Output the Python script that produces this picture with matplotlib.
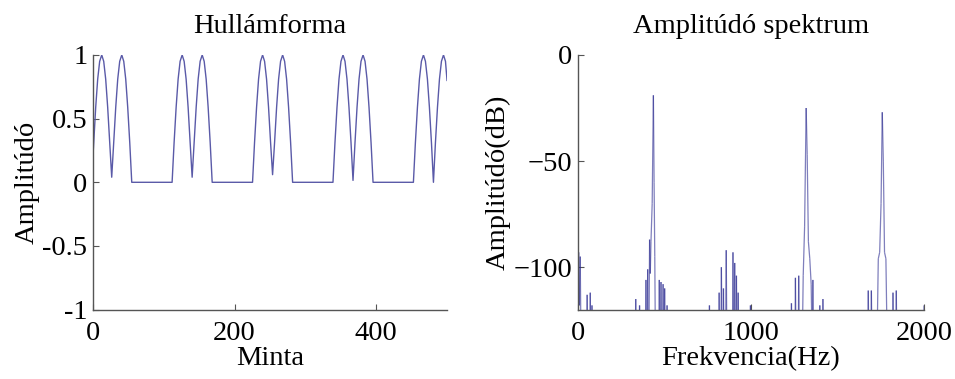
import numpy as np
import matplotlib
matplotlib.use("Agg")
import matplotlib.pyplot as plt
from matplotlib.collections import LineCollection

plt.rcParams['font.family'] = ['Liberation Serif', 'DejaVu Serif']
FS = 20.5

# waveform: rectified double pulses followed by silence
wave_x = [0, 1.0, 3.8, 6.6, 9.4, 12.3, 15.1, 17.9, 20.7, 23.6, 26.4,
          29.2, 32.1, 34.9, 37.7, 40.6, 43.4, 46.2, 49.0, 51.9, 54.7,
          111.7, 114.5, 117.4, 120.2, 123.0, 125.9, 128.7, 131.5, 134.3, 137.2, 140.0,
          142.8, 145.7, 148.5, 151.3, 154.2, 157.0, 159.8, 162.6, 165.5, 168.3,
          225.3, 228.1, 231.0, 233.8, 236.6, 239.5, 242.3, 245.1, 247.9, 250.8, 253.6,
          256.4, 259.3, 262.1, 264.9, 267.8, 270.6, 273.4, 276.2, 279.1, 281.9,
          338.9, 341.7, 344.6, 347.4, 350.2, 353.1, 355.9, 358.7, 361.5, 364.4, 367.2,
          370.0, 372.9, 375.7, 378.5, 381.4, 384.2, 387.0, 389.8, 392.7, 395.5,
          452.5, 455.3, 458.2, 461.0, 463.8, 466.7, 469.5, 472.3, 475.1, 478.0, 480.8,
          483.6, 486.5, 489.3, 492.1, 495.0, 497.8, 500]
wave_y = [0.21, 0.31, 0.59, 0.81, 0.95, 1.0, 0.95, 0.81, 0.59, 0.31, 0.04,
          0.31, 0.59, 0.81, 0.95, 1.0, 0.95, 0.81, 0.59, 0.31, 0.0,
          0.0, 0.31, 0.59, 0.81, 0.95, 1.0, 0.95, 0.81, 0.59, 0.31, 0.04,
          0.31, 0.59, 0.81, 0.95, 1.0, 0.95, 0.81, 0.59, 0.31, 0.0,
          0.0, 0.31, 0.59, 0.81, 0.95, 1.0, 0.95, 0.81, 0.59, 0.31, 0.06,
          0.31, 0.59, 0.81, 0.95, 1.0, 0.95, 0.81, 0.59, 0.31, 0.0,
          0.0, 0.31, 0.59, 0.81, 0.95, 1.0, 0.95, 0.81, 0.59, 0.31, 0.015,
          0.31, 0.59, 0.81, 0.95, 1.0, 0.95, 0.81, 0.59, 0.31, 0.0,
          0.0, 0.31, 0.59, 0.81, 0.95, 1.0, 0.95, 0.81, 0.59, 0.31, 0.0,
          0.31, 0.59, 0.81, 0.95, 1.0, 0.95, 0.80]

# amplitude spectrum in dB (values below -120 fall under the axis)
spec_f = [0, 4, 8, 13, 18, 50, 53, 57, 68, 71, 75, 78, 81, 85,
          330, 334, 338, 352, 356, 360, 389, 393, 397, 400, 403, 407,
          410, 414, 418, 422, 429, 436, 440, 444, 448,
          467, 470, 474, 477, 480, 484, 489, 492, 496, 498, 501, 505, 512, 515, 519,
          757, 760, 764, 813, 816, 820, 826, 829, 833, 838, 841, 845,
          853, 857, 861, 893, 896, 900, 903, 906, 910, 913, 916, 920, 923, 926, 930,
          994, 997, 1001,
          1231, 1234, 1238, 1254, 1257, 1261, 1273, 1276, 1280,
          1296, 1302, 1310, 1319, 1325, 1332, 1340, 1348, 1354, 1358, 1362,
          1395, 1398, 1402, 1413, 1416, 1420,
          1675, 1678, 1682, 1693, 1696, 1700,
          1728, 1736, 1744, 1752, 1759, 1765, 1772, 1780, 1788,
          1818, 1821, 1825, 1837, 1840, 1844, 1996, 2000]
spec_db = [-140, -93, -118, -95, -140, -140, -113, -140, -140, -112, -140, -140, -118, -140,
           -140, -115, -140, -140, -118, -140, -140, -106, -140, -140, -101, -140,
           -140, -87, -103, -88, -70, -19, -60, -95, -140,
           -140, -106, -140, -140, -107, -140, -140, -108, -140, -140, -110, -140, -140, -118, -140,
           -140, -118, -140, -140, -112, -140, -140, -100, -140, -140, -110, -140,
           -140, -92, -140, -140, -93, -140, -140, -98, -140, -140, -104, -140, -140, -112, -140,
           -140, -118, -140,
           -140, -117, -140, -140, -105, -140, -140, -104, -140,
           -140, -104, -81, -25, -47, -88, -96, -108, -140, -106, -140,
           -140, -118, -140, -140, -115, -140,
           -140, -111, -140, -140, -111, -140,
           -140, -96, -93, -70, -27, -50, -93, -96, -140,
           -140, -112, -140, -140, -111, -140, -140, -118]

axis_color = '#555555'


def style_axes(ax):
    for side in ('top', 'right'):
        ax.spines[side].set_visible(False)
    for side in ('left', 'bottom'):
        ax.spines[side].set_color(axis_color)
        ax.spines[side].set_linewidth(1.0)
    ax.tick_params(direction='in', length=4, width=0.8, color=axis_color,
                   labelsize=FS)
    ax.tick_params(axis='x', pad=8)
    ax.tick_params(axis='y', pad=4)


fig = plt.figure(figsize=(9.55, 3.79), dpi=100)

ax1 = fig.add_axes([0.0974, 0.183, 0.3707, 0.672])
ax1.plot(wave_x, wave_y, color='#5a5aa8', lw=1.0)
ax1.set_xlim(0, 500)
ax1.set_ylim(-1, 1)
ax1.set_xticks([0, 200, 400])
ax1.set_yticks([-1, -0.5, 0, 0.5, 1])
ax1.set_yticklabels(['-1', '-0.5', '0', '0.5', '1'])
ax1.set_title('Hullámforma', fontsize=FS, pad=16)
ax1.set_xlabel('Minta', fontsize=FS, labelpad=0)
ax1.set_ylabel('Amplitúdó', fontsize=FS, labelpad=2)
style_axes(ax1)

ax2 = fig.add_axes([0.6052, 0.183, 0.3623, 0.672])
pts = np.column_stack([spec_f, spec_db])
segs = np.stack([pts[:-1], pts[1:]], axis=1)
lc = LineCollection(segs, colors='#2a2a90', linewidths=0.9, alpha=0.6)
ax2.add_collection(lc)
ax2.set_xlim(0, 2000)
ax2.set_ylim(-120, 0)
ax2.set_xticks([0, 1000, 2000])
ax2.set_yticks([-100, -50, 0])
ax2.set_title('Amplitúdó spektrum', fontsize=FS, pad=16)
ax2.set_xlabel('Frekvencia(Hz)', fontsize=FS, labelpad=0)
ax2.set_ylabel('Amplitúdó(dB)', fontsize=FS, labelpad=2)
style_axes(ax2)

fig.savefig('out.png', dpi=100)
